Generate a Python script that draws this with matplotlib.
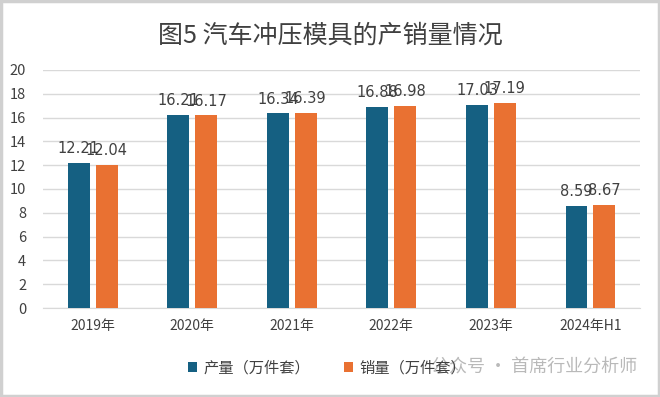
import matplotlib.pyplot as plt
import numpy as np
from matplotlib.patches import Rectangle

plt.rcParams['font.family'] = ['Noto Sans CJK SC', 'DejaVu Sans']

# 数据
categorias = ["2019年", "2020年", "2021年", "2022年", "2023年", "2024年H1"]
producao = [12.21, 16.21, 16.34, 16.88, 17.03, 8.59]
vendas = [12.04, 16.17, 16.39, 16.98, 17.19, 8.67]
y_ticks = [0, 2, 4, 6, 8, 10, 12, 14, 16, 18, 20]

azul = '#156082'
laranja = '#E97132'
texto = '#404040'

fig = plt.figure(figsize=(6.6, 3.97), dpi=100)
# moldura cinza
fig.patches.append(Rectangle((0.002, 0.003), 0.996, 0.994, transform=fig.transFigure,
                             fill=False, edgecolor='#d0d0d0', linewidth=2.5))

ax = fig.add_axes([0.065, 0.224, 0.905, 0.6])
x = np.arange(len(categorias))
w = 0.22
b1 = ax.bar(x - 0.14, producao, w, color=azul, label="产量（万件套）", zorder=3)
b2 = ax.bar(x + 0.14, vendas, w, color=laranja, label="销量（万件套）", zorder=3)

for barras in (b1, b2):
    for r in barras:
        ax.annotate(f"{r.get_height():.2f}", (r.get_x() + r.get_width() / 2, r.get_height()),
                    xytext=(0, 5), textcoords='offset points', ha='center', va='bottom',
                    fontsize=10.5, color=texto, family='DejaVu Sans')

ax.set_ylim(0, 20)
ax.set_xlim(-0.5, len(categorias) - 0.5)
ax.set_yticks(y_ticks)
ax.set_xticks(x)
ax.set_xticklabels(categorias)
ax.tick_params(axis='y', length=0, pad=12, labelsize=10.5, labelcolor=texto)
ax.tick_params(axis='x', length=0, pad=8, labelsize=10, labelcolor=texto)
ax.yaxis.grid(True, color='#d9d9d9', linewidth=1, zorder=0)
for s in ['top', 'right', 'left']:
    ax.spines[s].set_visible(False)
ax.spines['bottom'].set_color('#d9d9d9')

fig.text(0.5, 0.91, "图5 汽车冲压模具的产销量情况", ha='center', va='center',
         fontsize=18, color=texto)

fig.legend(loc='center left', bbox_to_anchor=(0.285, 0.073), ncol=2, frameon=False,
           fontsize=11, handlelength=0.6, handleheight=0.6, columnspacing=2.2,
           handletextpad=0.4, labelcolor=texto, borderpad=0, borderaxespad=0)

# marca d'água
fig.text(0.965, 0.073, "公众号 · 首席行业分析师", ha='right', va='center',
         fontsize=13, color='#a8a8a8', alpha=0.8)

fig.savefig('out.png', dpi=100)
